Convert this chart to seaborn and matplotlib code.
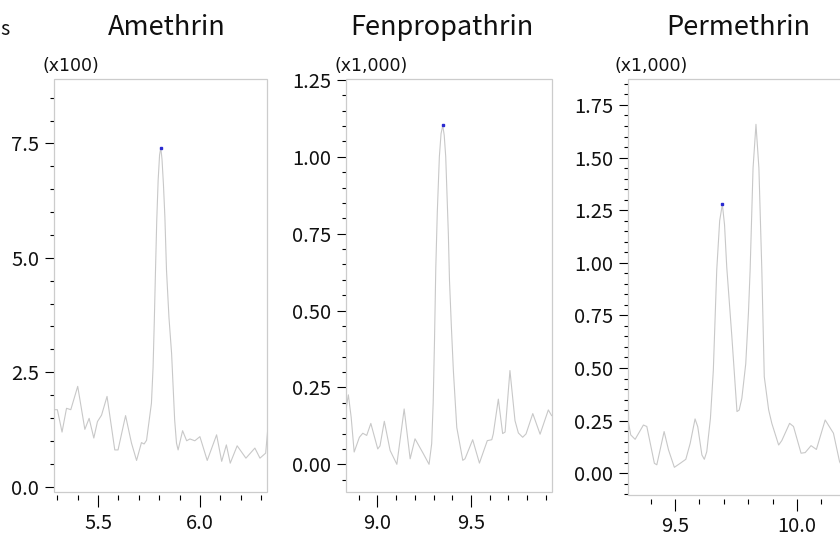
import matplotlib
matplotlib.use("Agg")
import matplotlib.pyplot as plt
from matplotlib.patches import Rectangle
from matplotlib.ticker import MultipleLocator
import seaborn as sns
import pandas as pd

# ---------------- data ----------------
titles = ["Amethrin", "Fenpropathrin", "Permethrin"]
scale_labels = ["(x100)", "(x1,000)", "(x1,000)"]

amethrin_rt = [5.284, 5.300, 5.323, 5.345, 5.366, 5.400, 5.435, 5.456, 5.479, 5.497,
               5.517, 5.544, 5.582, 5.598, 5.635, 5.664, 5.689, 5.713, 5.726, 5.738,
               5.762, 5.770, 5.776, 5.782, 5.788, 5.795, 5.802, 5.808, 5.814, 5.821,
               5.828, 5.836, 5.848, 5.861, 5.876, 5.885, 5.893, 5.915, 5.935, 5.951,
               5.975, 6.000, 6.036, 6.082, 6.107, 6.130, 6.149, 6.183, 6.226, 6.270,
               6.295, 6.323, 6.333]
amethrin_int = [1.68, 1.68, 1.19, 1.71, 1.68, 2.19, 1.25, 1.49, 1.06, 1.42,
                1.56, 1.97, 0.80, 0.80, 1.55, 0.95, 0.57, 0.96, 0.93, 1.01,
                1.82, 2.60, 3.60, 4.73, 5.80, 6.70, 7.25, 7.41, 7.15, 6.60,
                5.90, 4.73, 3.70, 2.91, 1.46, 0.95, 0.80, 1.22, 1.00, 1.04,
                1.00, 1.09, 0.57, 1.13, 0.55, 0.91, 0.51, 0.89, 0.62, 0.84,
                0.62, 0.73, 1.24]

fenpro_rt = [8.834, 8.845, 8.860, 8.876, 8.904, 8.922, 8.943, 8.965, 9.002, 9.014,
             9.037, 9.068, 9.104, 9.143, 9.175, 9.201, 9.246, 9.276, 9.290, 9.298,
             9.305, 9.312, 9.320, 9.331, 9.340, 9.349, 9.357, 9.365, 9.379, 9.385,
             9.395, 9.406, 9.424, 9.456, 9.468, 9.509, 9.545, 9.587, 9.611, 9.619,
             9.646, 9.669, 9.682, 9.708, 9.735, 9.753, 9.776, 9.794, 9.830, 9.869,
             9.913, 9.931]
fenpro_int = [0.185, 0.226, 0.153, 0.040, 0.088, 0.101, 0.094, 0.133, 0.050, 0.060,
              0.140, 0.045, 0.000, 0.180, 0.018, 0.083, 0.034, 0.000, 0.067, 0.200,
              0.400, 0.640, 0.820, 1.000, 1.075, 1.102, 1.070, 1.000, 0.750, 0.600,
              0.450, 0.303, 0.120, 0.013, 0.018, 0.080, 0.004, 0.077, 0.080, 0.099,
              0.212, 0.100, 0.105, 0.305, 0.142, 0.102, 0.088, 0.099, 0.165, 0.098,
              0.177, 0.158]

permeth_rt = [9.308, 9.318, 9.336, 9.370, 9.384, 9.415, 9.425, 9.455, 9.473, 9.497,
              9.521, 9.544, 9.562, 9.582, 9.593, 9.610, 9.620, 9.630, 9.645, 9.657,
              9.671, 9.683, 9.694, 9.703, 9.712, 9.733, 9.754, 9.763, 9.774, 9.790,
              9.801, 9.808, 9.820, 9.832, 9.844, 9.856, 9.866, 9.884, 9.897, 9.925,
              9.938, 9.970, 9.986, 10.017, 10.034, 10.058, 10.080, 10.116, 10.150, 10.175,
              10.190]
permeth_int = [0.245, 0.182, 0.161, 0.229, 0.222, 0.047, 0.040, 0.198, 0.111, 0.028,
               0.047, 0.066, 0.142, 0.258, 0.221, 0.087, 0.066, 0.102, 0.260, 0.490,
               0.966, 1.200, 1.278, 1.180, 0.980, 0.649, 0.293, 0.300, 0.356, 0.520,
               0.760, 0.966, 1.450, 1.658, 1.450, 0.966, 0.459, 0.301, 0.237, 0.134,
               0.155, 0.237, 0.222, 0.095, 0.098, 0.131, 0.113, 0.253, 0.190, 0.055,
               0.020]

apex_rt = [5.808, 9.349, 9.694]
apex_int = [7.41, 1.102, 1.278]

x_limits = [(5.285, 6.331), (8.834, 9.931), (9.308, 10.183)]
y_limits = [(-0.12, 8.91), (-0.09, 1.253), (-0.105, 1.872)]
y_major = [2.5, 0.25, 0.25]
y_minor = [0.5, 0.05, 0.05]
y_fmt = ["{:.1f}", "{:.2f}", "{:.2f}"]

# ---------------- style ----------------
sns.set_theme(style="white")
plt.rcParams["font.family"] = ["Noto Sans CJK JP", "DejaVu Sans"]

W, H = 840, 535
fig = plt.figure(figsize=(W / 100, H / 100), dpi=100)

# panel boxes in pixels: left, right, top, bottom
boxes = [(54.3, 267.3, 79.0, 492.0), (346.3, 551.7, 79.0, 492.0), (628.3, 841.5, 79.3, 495.3)]
title_x = [167, 442, 738]
scale_x = [42, 334, 614]
x_pad = [4.3, 4.3, 3.6]

series = [(amethrin_rt, amethrin_int), (fenpro_rt, fenpro_int), (permeth_rt, permeth_int)]

for i, (l, r, t, b) in enumerate(boxes):
    ax = fig.add_axes([l / W, (H - b) / H, (r - l) / W, (b - t) / H])
    df = pd.DataFrame({"rt": series[i][0], "intensity": series[i][1]})
    sns.lineplot(data=df, x="rt", y="intensity", ax=ax, color="#c8c8c8",
                 linewidth=0.8, estimator=None)
    ax.plot([apex_rt[i]], [apex_int[i]], marker="s", markersize=1.6,
            color="#2a2ad0", linestyle="none")
    ax.set_xlim(*x_limits[i])
    ax.set_ylim(*y_limits[i])
    ax.set_xlabel("")
    ax.set_ylabel("")
    for s in ax.spines.values():
        s.set_visible(False)
    ax.spines["bottom"].set_position(("outward", 2.4))
    ax.add_patch(Rectangle((0, 0), 1, 1, transform=ax.transAxes, fill=False,
                           edgecolor="#cccccc", linewidth=0.9, clip_on=False))
    ax.xaxis.set_major_locator(MultipleLocator(0.5))
    ax.xaxis.set_minor_locator(MultipleLocator(0.1))
    ax.yaxis.set_major_locator(MultipleLocator(y_major[i]))
    ax.yaxis.set_minor_locator(MultipleLocator(y_minor[i]))
    fmt = y_fmt[i]
    ax.yaxis.set_major_formatter(plt.FuncFormatter(lambda v, p, f=fmt: f.format(v)))
    ax.xaxis.set_major_formatter(plt.FuncFormatter(lambda v, p: "{:.1f}".format(v)))
    ax.tick_params(axis="x", which="major", direction="out", length=8.6, width=0.8,
                   color="black", labelsize=14.5, pad=x_pad[i], bottom=True)
    ax.tick_params(axis="x", which="minor", direction="out", length=3.8, width=0.8,
                   color="black", bottom=True)
    ax.tick_params(axis="y", which="major", direction="out", length=6.5, width=0.8,
                   color="black", labelsize=14.5, pad=4.5, left=True)
    ax.tick_params(axis="y", which="minor", direction="out", length=3.1, width=0.8,
                   color="black", left=True)
    for lab in ax.get_xticklabels() + ax.get_yticklabels():
        lab.set_color("#111111")
    ax.grid(False)
    fig.text(title_x[i] / W, 1 - 35 / H, titles[i], ha="center", va="baseline",
             fontsize=19.5, color="#111111")
    fig.text(scale_x[i] / W, 1 - 71 / H, scale_labels[i], ha="left", va="baseline",
             fontsize=12.5, color="#111111", family=["DejaVu Sans"])

fig.text(0 / W, 1 - 35 / H, "s", ha="left", va="baseline", fontsize=14, color="#111111")

fig.savefig("out.png", dpi=100)
